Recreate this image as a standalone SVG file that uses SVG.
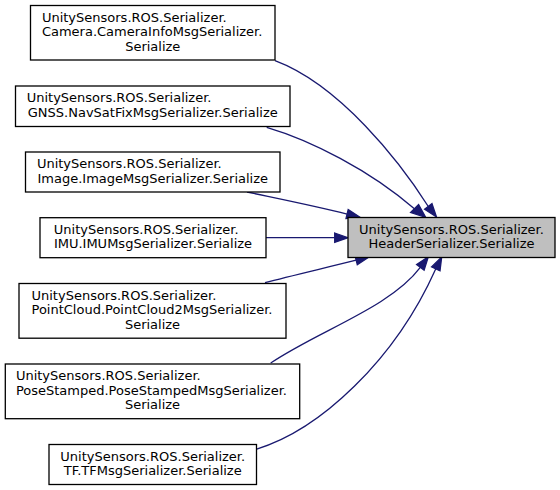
<svg xmlns="http://www.w3.org/2000/svg" width="560" height="490" viewBox="0 0 560 490">
<style>
.box{fill:#ffffff;stroke:#000000;stroke-width:1.3}
.tgt{fill:#bfbfbf;stroke:#000000;stroke-width:1.3}
text{font-family:"DejaVu Sans",sans-serif;font-size:13px;fill:#000000}
.m{text-anchor:middle}
.e path{fill:none;stroke:#191970;stroke-width:1.3}
.e polygon{fill:#191970;stroke:#191970;stroke-width:1.3}
</style>
<rect width="560" height="490" fill="#ffffff"/>
<g id="connectors" class="e">
<path d="M275,60.7 C340,85 400,162 428.3,206.5"/>
<polygon points="432,203.6 436.5,217 424.6,209.3"/>
<path d="M266.7,127.3 C310,140 370,170 415,209.3"/>
<polygon points="418.6,204.6 425.7,217.3 410.6,212.5"/>
<path d="M247,192 C275,198 315,206 347.1,214.1"/>
<polygon points="348.2,209.6 360,217.3 346,218.6"/>
<path d="M266,237.7 L334.7,237.7"/>
<polygon points="334.7,233 348,237.7 334.7,242.4"/>
<path d="M265,282.7 C290,276 325,268 356.1,260.2"/>
<polygon points="355,255.7 369,257 357.3,264.8"/>
<path d="M270.7,363 C320,330 390.3,307.4 420.3,267.4"/>
<polygon points="416.6,264.6 428.3,256.7 424.1,270.2"/>
<path d="M256,449.3 C320,430 395,360 435.7,268.9"/>
<polygon points="431.5,266.9 441.7,257 440,270.9"/>
</g>
<g id="node-camera">
<rect class="box" x="30.5" y="5.5" width="244.5" height="54.5"/>
<text x="41.9" y="21.5">UnitySensors.ROS.Serializer.</text>
<text x="41.9" y="36.2">Camera.CameraInfoMsgSerializer.</text>
<text class="m" x="152.75" y="50.8">Serialize</text>
</g>
<g id="node-gnss">
<rect class="box" x="15.5" y="86" width="274.5" height="40.5"/>
<text x="26.7" y="102">UnitySensors.ROS.Serializer.</text>
<text class="m" x="152.75" y="116.7">GNSS.NavSatFixMsgSerializer.Serialize</text>
</g>
<g id="node-image">
<rect class="box" x="25.5" y="152" width="254.5" height="40"/>
<text x="36.9" y="168">UnitySensors.ROS.Serializer.</text>
<text class="m" x="152.75" y="182.7">Image.ImageMsgSerializer.Serialize</text>
</g>
<g id="node-imu">
<rect class="box" x="40" y="217.7" width="226" height="40"/>
<text x="53.85" y="233.7">UnitySensors.ROS.Serializer.</text>
<text class="m" x="153" y="248.4">IMU.IMUMsgSerializer.Serialize</text>
</g>
<g id="node-pointcloud">
<rect class="box" x="19" y="283.5" width="267" height="54.7"/>
<text x="31.5" y="299.5">UnitySensors.ROS.Serializer.</text>
<text x="31.5" y="314.2">PointCloud.PointCloud2MsgSerializer.</text>
<text class="m" x="152.5" y="328.8">Serialize</text>
</g>
<g id="node-posestamped">
<rect class="box" x="5.3" y="364" width="294.4" height="54.7"/>
<text x="15.9" y="380">UnitySensors.ROS.Serializer.</text>
<text x="15.9" y="394.7">PoseStamped.PoseStampedMsgSerializer.</text>
<text class="m" x="152.5" y="409.3">Serialize</text>
</g>
<g id="node-tf">
<rect class="box" x="49" y="444.5" width="207.5" height="40"/>
<text class="m" x="152.75" y="460.5">UnitySensors.ROS.Serializer.</text>
<text class="m" x="152.75" y="475.2">TF.TFMsgSerializer.Serialize</text>
</g>
<g id="node-header">
<rect class="tgt" x="348" y="217.5" width="207" height="40"/>
<text class="m" x="451.5" y="233.5">UnitySensors.ROS.Serializer.</text>
<text class="m" x="451.5" y="248.2">HeaderSerializer.Serialize</text>
</g>
</svg>
